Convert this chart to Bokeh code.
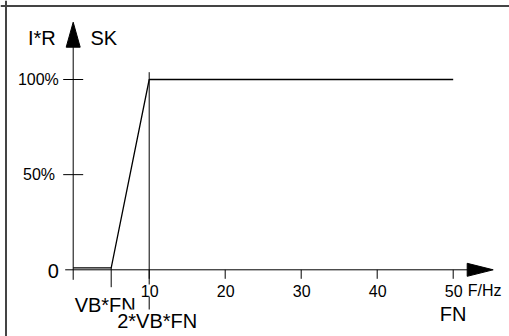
from bokeh.plotting import figure
from bokeh.models import Range1d, Span, Label
from bokeh.embed import file_html
from bokeh.resources import INLINE

# ---- data ----
freq = [0, 5, 10, 50]          # F/Hz
level = [1, 1, 100, 100]       # I*R (% of SK)
x_ticks = [10, 20, 30, 40, 50]
x_tick_labels = ["10", "20", "30", "40", "50"]
y_ticks = [50, 100]
y_tick_labels = ["50%", "100%"]
zero_label = "0"
x_unit = "F/Hz"
y_name_left = "I*R"
y_name_right = "SK"
vb_label = "VB*FN"
vb2_label = "2*VB*FN"
fn_label = "FN"

# ---- geometry (pixels -> data) ----
W, H = 509, 336
X0_PX, Y0_PX = 72.7, 269.3      # pixel position of the origin
XS, YS = 7.6, 1.903             # pixels per x unit / per percent

x_start = -X0_PX / XS
x_end = x_start + W / XS
y_end = Y0_PX / YS
y_start = y_end - H / YS


def dx(px):
    return px / XS


def dy(px):
    return px / YS


FONT = "Liberation Sans"
INK = "#000000"

p = figure(width=W, height=H, output_backend="svg", toolbar_location=None,
           x_range=Range1d(x_start, x_end), y_range=Range1d(y_start, y_end),
           x_axis_type=None, y_axis_type=None, min_border=0)
p.grid.visible = False
p.outline_line_color = None
p.background_fill_color = "white"
p.border_fill_color = "white"

# outer frame (top and left edges)
p.add_layout(Span(location=y_end - dy(5.5), dimension="width",
                  line_color="#444444", line_width=2))
p.add_layout(Span(location=x_start + dx(5.5), dimension="height",
                  line_color="#444444", line_width=2))

# y axis with arrow
y_tip = dy(247.6)
y_base = dy(222.6)
p.line([0, 0], [-dy(10), y_base + dy(2)], line_color=INK, line_width=1)
p.patch([-dx(7), 0, dx(7)], [y_base, y_tip, y_base], fill_color=INK, line_color=INK)

# x axis with arrow
x_tip = dx(420)
x_base = dx(394)
p.line([-dx(8), x_base + dx(2)], [0, 0], line_color=INK, line_width=1)
p.patch([x_base, x_tip, x_base], [-dy(6.5), 0, dy(6.5)], fill_color=INK, line_color=INK)

# y ticks (crossing the axis)
p.segment(x0=[-dx(10)] * len(y_ticks), y0=y_ticks,
          x1=[dx(10)] * len(y_ticks), y1=y_ticks, line_color=INK, line_width=1)
# x ticks (below the axis)
p.segment(x0=x_ticks, y0=[0] * len(x_ticks),
          x1=x_ticks, y1=[-dy(9)] * len(x_ticks), line_color=INK, line_width=1)

# helper verticals at VB*FN and 2*VB*FN
p.segment(x0=[freq[1]], y0=[level[1]], x1=[freq[1]], y1=[-dy(17.4)],
          line_color=INK, line_width=1)
p.segment(x0=[freq[2]], y0=[level[2] + dy(7.3)], x1=[freq[2]], y1=[-dy(46)],
          line_color=INK, line_width=1)

# characteristic
p.line(freq, level, line_color=INK, line_width=1.3)


def add_label(x, y, text, size, align="center", bg=None, x_off=0, y_off=0, font=FONT):
    lab = Label(x=x, y=y, text=text, text_font=font, text_font_size=f"{size}px",
                text_color=INK, text_align=align, text_baseline="middle",
                x_offset=x_off, y_offset=y_off)
    if bg:
        lab.background_fill_color = bg
    p.add_layout(lab)


# x tick labels
for xv, t in zip(x_ticks, x_tick_labels):
    add_label(xv, -dy(20.7), t, 16, bg="white", x_off=0.5)
add_label(x_ticks[-1], -dy(20.7), x_unit, 16, align="left", x_off=14.5)

# y tick labels
add_label(-dx(14.4), y_ticks[1], y_tick_labels[1], 16, align="right")
add_label(-dx(18.2), y_ticks[0], y_tick_labels[0], 16, align="right")
add_label(-dx(14.4), 0, zero_label, 20, align="right", y_off=-1.5)

# axis names
add_label(-dx(31.4), dy(232.1), y_name_left, 20)
add_label(dx(30.6), dy(232.1), y_name_right, 20)

# special frequency labels
add_label(freq[1], -dy(34.7), vb_label, 20, bg="white", x_off=-6)
add_label(freq[2], -dy(50.7), vb2_label, 20, bg="white", x_off=8)
add_label(x_ticks[-1], -dy(44), fn_label, 20)

open("out.html", "w").write(file_html(p, INLINE))
